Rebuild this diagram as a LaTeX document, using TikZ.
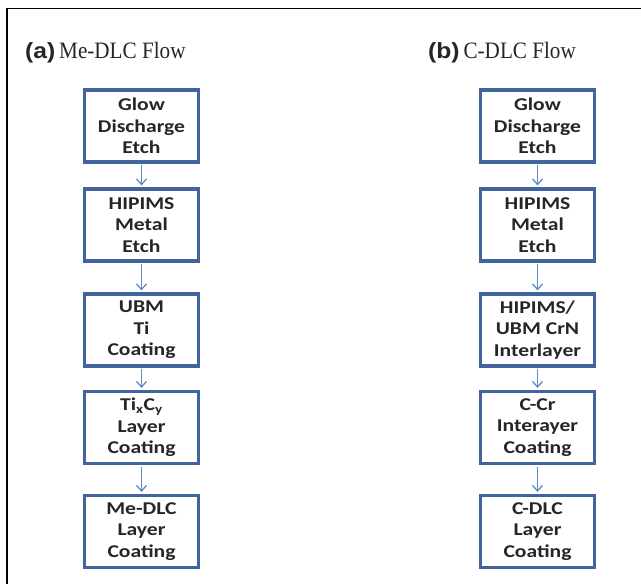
\documentclass[tikz,border=0pt]{standalone}
\usepackage{fontspec}
\setmainfont{Liberation Serif}
\newfontfamily\titlefont[FakeStretch=0.9]{Liberation Serif}
\newfontfamily\boxfont[FakeStretch=1.2]{Carlito}
\newfontfamily\labfont[FakeStretch=1.12]{Liberation Sans}
\usetikzlibrary{arrows.meta}
\definecolor{boxblue}{HTML}{41649E}
\definecolor{arrblue}{HTML}{5B8BC9}
\definecolor{txtgray}{HTML}{262626}
\tikzset{
  stepbox/.style={draw=boxblue, line width=3.4pt, fill=white, minimum width=113.5pt, minimum height=72pt,
    align=center, inner sep=0pt, text=txtgray, font=\boxfont\bfseries\fontsize{18}{21.5}\selectfont},
  flowarrow/.style={draw=arrblue, line width=1.3pt, -{Straight Barb[length=5.5pt,width=10pt,line width=1.3pt]}},
  title/.style={anchor=base west, inner sep=0pt, font=\titlefont\fontsize{23.5}{28}\selectfont, text=txtgray},
}
\begin{document}
\begin{tikzpicture}[x=1pt,y=-1pt]
\useasboundingbox (0,0) rectangle (641,584);
\fill[white] (0,0) rectangle (641,584);
\draw[black, line width=1.5pt] (7,584) -- (7,8.5) -- (641,8.5);

\node[title] (ta) at (25,58) {{\labfont\bfseries\fontsize{22}{24}\selectfont(a)}\,Me-DLC Flow};
\node[title] (tb) at (428,58) {{\labfont\bfseries\fontsize{22}{24}\selectfont(b)}\,C-DLC Flow};

% left column
\node[stepbox] (a1) at (141.5,126) {Glow\\Discharge\\Etch};
\node[stepbox] (a2) at (141.5,225) {HIPIMS\\Metal\\Etch};
\node[stepbox] (a3) at (141.5,330) {UBM\\Ti\\Coating};
\node[stepbox] (a4) at (141.5,427.5) {Ti\textsubscript{x}C\textsubscript{y}\\Layer\\Coating};
\node[stepbox] (a5) at (141.5,531.5) {Me-DLC\\Layer\\Coating};

% right column
\node[stepbox] (b1) at (537.5,126) {Glow\\Discharge\\Etch};
\node[stepbox] (b2) at (537.5,225) {HIPIMS\\Metal\\Etch};
\node[stepbox] (b3) at (537.5,330) {HIPIMS/\\UBM CrN\\Interlayer};
\node[stepbox] (b4) at (537.5,427.5) {C-Cr\\Interayer\\Coating};
\node[stepbox] (b5) at (537.5,531.5) {C-DLC\\Layer\\Coating};

\foreach \p/\q in {a1/a2,a2/a3,a3/a4,a4/a5,b1/b2,b2/b3,b3/b4,b4/b5}
  \draw[flowarrow] ([yshift=-1.7pt]\p.south) -- ([yshift=1.9pt]\q.north);
\end{tikzpicture}
\end{document}
